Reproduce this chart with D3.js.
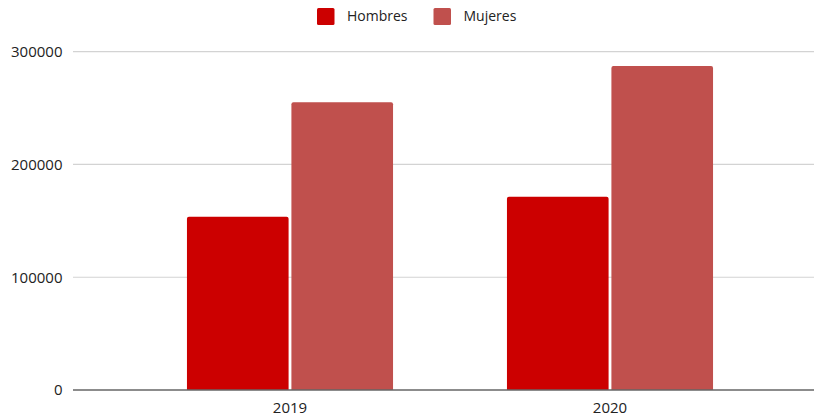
<!DOCTYPE html>
<html>
<head>
<meta charset="utf-8">
<script src="https://cdn.jsdelivr.net/npm/d3@7"></script>
<style>
  html, body { margin: 0; padding: 0; background: #fff; }
  svg { display: block; font-family: "Open Sans", sans-serif; }
</style>
</head>
<body>
<svg id="chart" width="814" height="417"></svg>
<script>
// Categories and series
const years = ["2019", "2020"];
const seriesNames = ["Hombres", "Mujeres"];
const hombres = [153700, 171400];
const mujeres = [255100, 287300];
const yTicks = [0, 100000, 200000, 300000];
const colors = ["#cc0000", "#c0504d"];

const rows = years.map((y, i) => ({ year: y, values: [hombres[i], mujeres[i]] }));

const svg = d3.select("#chart");
const W = 814, H = 417;
const plot = { left: 73, right: 814, top: 51.7, bottom: 390 };

const y = d3.scaleLinear().domain([0, 300000]).range([plot.bottom, plot.top]);
const x0 = d3.scaleBand().domain(years).range([130, 770]).paddingInner(0.356).paddingOuter(0.178);
const x1 = d3.scaleBand().domain(seriesNames).range([0, x0.bandwidth()]).paddingInner(0.027);

// Horizontal gridlines
svg.append("g")
  .selectAll("line")
  .data(yTicks.filter(t => t > 0))
  .join("line")
  .attr("x1", plot.left).attr("x2", plot.right)
  .attr("y1", d => y(d)).attr("y2", d => y(d))
  .attr("stroke", "#d3d3d3").attr("stroke-width", 1.2);

// Y axis labels
const yAxis = d3.axisLeft(y).tickValues(yTicks).tickSize(0).tickPadding(0).tickFormat(d3.format("d"));
const yg = svg.append("g").attr("transform", `translate(${plot.left - 10.5},0)`).call(yAxis);
yg.select(".domain").remove();
yg.selectAll("text").attr("font-size", 15).attr("fill", "#222").attr("font-family", "Open Sans, sans-serif");

// Bars with slightly rounded tops
function barPath(x, w, top, bottom, r) {
  return `M${x},${bottom}V${top + r}Q${x},${top} ${x + r},${top}H${x + w - r}Q${x + w},${top} ${x + w},${top + r}V${bottom}Z`;
}
const groups = svg.append("g").selectAll("g")
  .data(rows)
  .join("g")
  .attr("transform", d => `translate(${x0(d.year)},0)`);
groups.selectAll("path")
  .data(d => d.values.map((v, i) => ({ key: seriesNames[i], value: v, i })))
  .join("path")
  .attr("d", d => barPath(x1(d.key), x1.bandwidth(), y(d.value), y(0), 2))
  .attr("fill", d => colors[d.i]);

// Baseline
svg.append("line")
  .attr("x1", plot.left).attr("x2", plot.right)
  .attr("y1", y(0)).attr("y2", y(0))
  .attr("stroke", "#666").attr("stroke-width", 1.6);

// X axis labels
const xAxis = d3.axisBottom(x0).tickSize(0).tickPadding(0);
const xg = svg.append("g").attr("transform", `translate(0,${y(0)})`).call(xAxis);
xg.select(".domain").remove();
xg.selectAll("text").attr("font-size", 15).attr("fill", "#222").attr("font-family", "Open Sans, sans-serif")
  .attr("dy", null).attr("y", 23);

// Legend
const legendX = [317, 433.5];
const legend = svg.append("g").selectAll("g")
  .data(seriesNames)
  .join("g")
  .attr("transform", (d, i) => `translate(${legendX[i]},8)`);
legend.append("rect")
  .attr("width", 17.5).attr("height", 17).attr("rx", 1.5)
  .attr("fill", (d, i) => colors[i]);
legend.append("text")
  .attr("x", 30).attr("y", 12.7)
  .attr("font-size", 14).attr("fill", "#222")
  .text(d => d);
</script>
</body>
</html>
